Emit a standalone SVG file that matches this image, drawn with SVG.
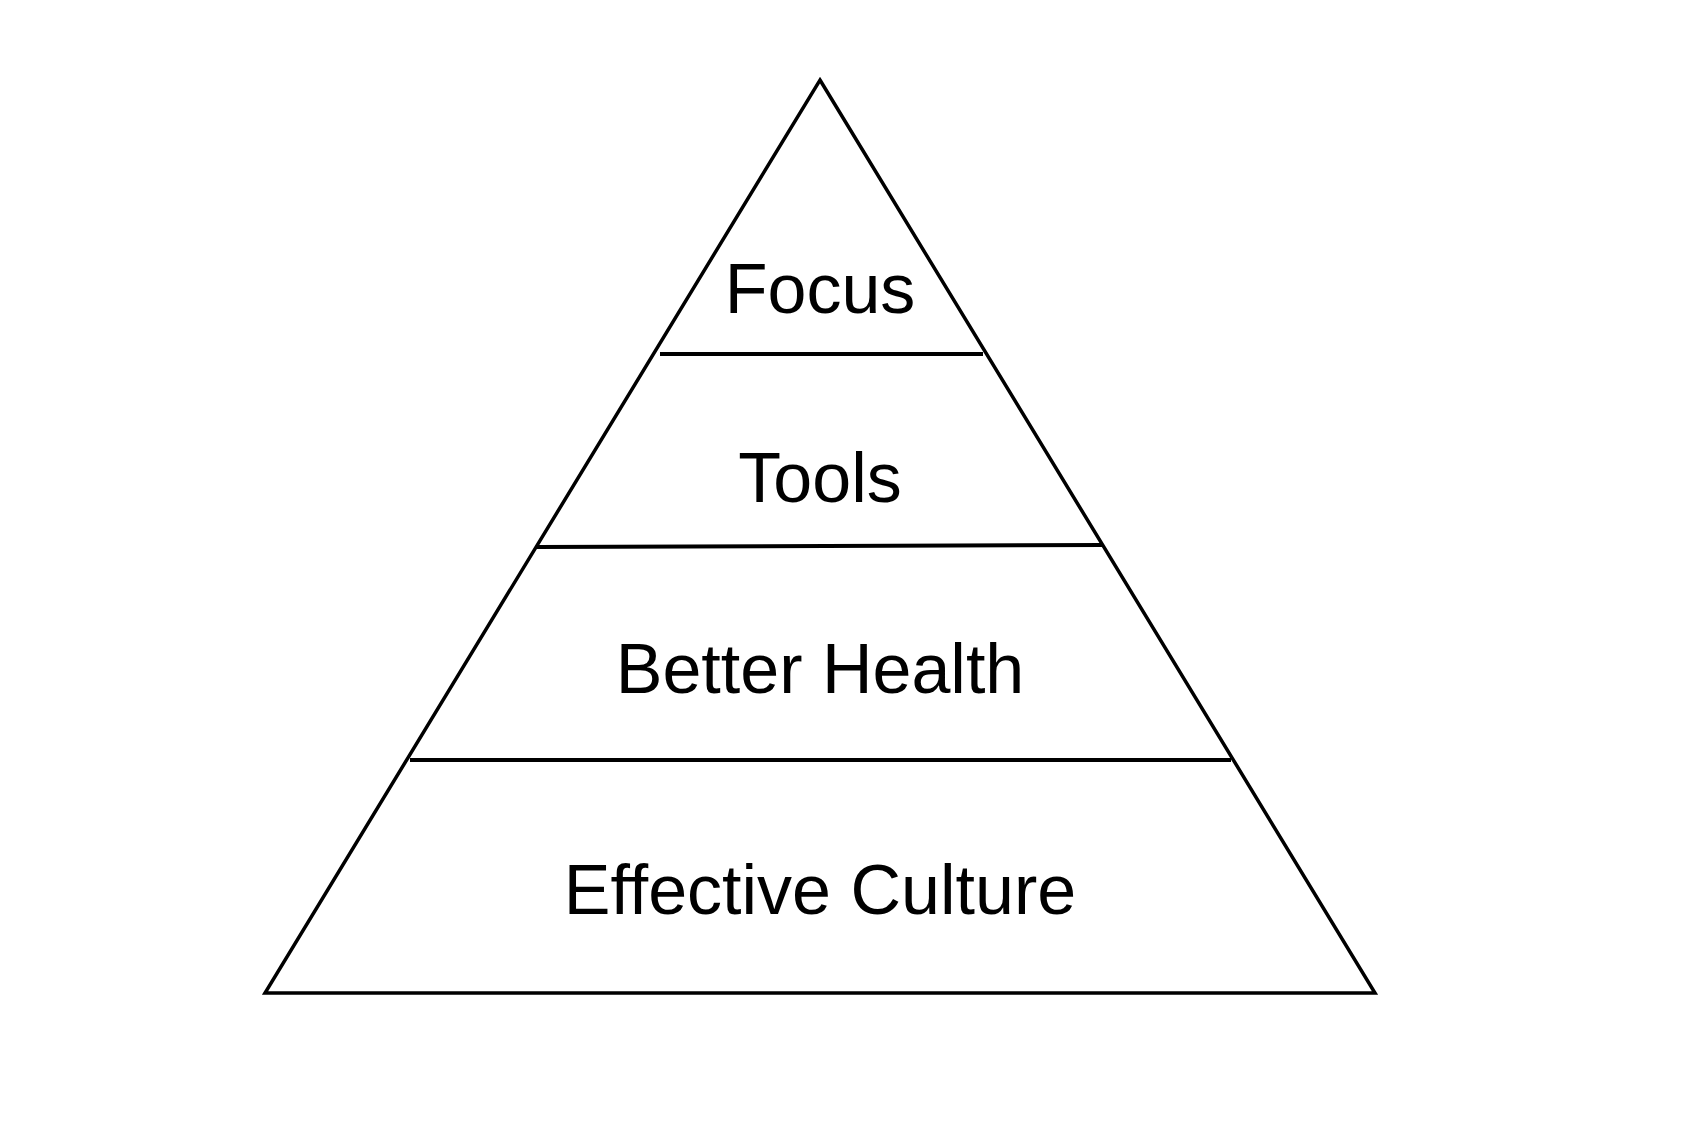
<svg xmlns="http://www.w3.org/2000/svg" width="1684" height="1140" viewBox="0 0 1684 1140">
<style>
.edge{fill:none;stroke:#000;stroke-width:3.5;stroke-linejoin:miter}
.div{stroke:#000;stroke-width:4;fill:none}
.lbl{font-family:"Liberation Sans",Arial,sans-serif;font-size:70px;fill:#000;text-anchor:middle}
</style>
<rect width="1684" height="1140" fill="#fff"/>
<g id="pyramid">
<polygon class="edge" points="820,80 1375,993 265,993"/>
</g>
<g id="connectors">
<line class="div" x1="660" y1="354" x2="983" y2="354"/>
<line class="div" x1="537" y1="547" x2="1103" y2="545"/>
<line class="div" x1="410" y1="760" x2="1231" y2="760"/>
</g>
<g id="focus"><text class="lbl" x="820" y="313">Focus</text></g>
<g id="tools"><text class="lbl" x="820" y="502">Tools</text></g>
<g id="better-health"><text class="lbl" x="820" y="693">Better Health</text></g>
<g id="effective-culture"><text class="lbl" x="820" y="914">Effective Culture</text></g>
</svg>
